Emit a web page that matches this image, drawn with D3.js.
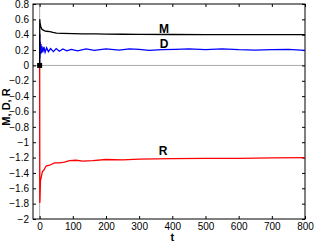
<!DOCTYPE html>
<html>
<head>
<meta charset="utf-8">
<script src="https://d3js.org/d3.v7.min.js"></script>
<style>
  body { margin: 0; background: #fff; }
  svg text { font-family: "Liberation Sans", Arial, sans-serif; }
  .tick text { font-size: 10px; }
</style>
</head>
<body>
<svg id="chart"></svg>
<script>
var width = 314, height = 242;
var margin = {left: 33, right: 9, top: 4, bottom: 23};

// data
var tM = [0, 0.5, 1, 2, 4, 7, 11, 15, 20, 31, 40, 51, 70, 100, 130, 170, 200, 250, 300, 400, 500, 600, 700, 800];
var valM = [0, 0.6, 0.57, 0.53, 0.5, 0.47, 0.46, 0.45, 0.445, 0.44, 0.43, 0.42, 0.418, 0.415, 0.412, 0.41, 0.408, 0.406, 0.405, 0.403, 0.402, 0.402, 0.401, 0.4];
var tD = [0, 0.5, 1, 2, 3, 4, 5, 7, 9.5, 13, 16.5, 21, 26.5, 33, 41.5, 50, 59.5, 70, 82, 95, 115, 140, 165, 200, 240, 270, 300, 330, 370, 410, 450, 500, 550, 600, 650, 700, 750, 800];
var valD = [0, 0.41, 0.1, 0.3, 0.15, 0.28, 0.16, 0.25, 0.17, 0.24, 0.17, 0.23, 0.18, 0.22, 0.18, 0.22, 0.185, 0.215, 0.19, 0.21, 0.19, 0.215, 0.195, 0.215, 0.2, 0.215, 0.21, 0.195, 0.205, 0.21, 0.215, 0.205, 0.215, 0.205, 0.2, 0.205, 0.21, 0.195];
var tR = [0, 0.5, 1, 2.5, 5, 8.5, 12, 19.5, 30, 45, 60, 75, 90, 110, 130, 160, 200, 250, 300, 400, 500, 600, 700, 800];
var valR = [0, -1.79, -1.75, -1.5, -1.45, -1.38, -1.37, -1.31, -1.3, -1.27, -1.27, -1.26, -1.24, -1.235, -1.245, -1.24, -1.225, -1.23, -1.22, -1.215, -1.21, -1.21, -1.205, -1.2];
var xTicks = [0, 100, 200, 300, 400, 500, 600, 700, 800];
var yTicks = [0.8, 0.6, 0.4, 0.2, 0, -0.2, -0.4, -0.6, -0.8, -1, -1.2, -1.4, -1.6, -1.8, -2];

var svg = d3.select('#chart').attr('width', width).attr('height', height);
var innerW = width - margin.left - margin.right;
var innerH = height - margin.top - margin.bottom;

var x = d3.scaleLinear().domain([-20, 800]).range([margin.left, margin.left + innerW]);
var y = d3.scaleLinear().domain([-2, 0.8]).range([margin.top + innerH, margin.top]);

// zero lines
svg.append('line').attr('x1', x(-20)).attr('x2', x(800)).attr('y1', y(0)).attr('y2', y(0))
    .attr('stroke', '#aaa').attr('stroke-width', 1);
svg.append('line').attr('x1', x(0)).attr('x2', x(0)).attr('y1', y(0.8)).attr('y2', y(-2))
    .attr('stroke', '#aaa').attr('stroke-width', 1);

function fmt(d) { return d3.format('')(d).replace('-', '\u2212'); }

var ax = function (g) { g.selectAll('.domain').remove(); g.selectAll('line').attr('stroke', '#000'); };

svg.append('g').attr('transform', 'translate(0,' + y(-2) + ')')
    .call(d3.axisBottom(x).tickValues(xTicks).tickSize(-3).tickPadding(4).tickFormat(fmt)).call(ax);
svg.append('g').attr('transform', 'translate(0,' + y(0.8) + ')')
    .call(d3.axisTop(x).tickValues(xTicks).tickSize(-3).tickFormat('')).call(ax);
svg.append('g').attr('transform', 'translate(' + x(-20) + ',0)')
    .call(d3.axisLeft(y).tickValues(yTicks).tickSize(-3).tickPadding(4).tickFormat(fmt)).call(ax);
svg.append('g').attr('transform', 'translate(' + x(800) + ',0)')
    .call(d3.axisRight(y).tickValues(yTicks).tickSize(-3).tickFormat('')).call(ax);

svg.selectAll('.tick text').attr('fill', '#000');

// box
svg.append('rect').attr('x', x(-20)).attr('y', y(0.8))
    .attr('width', x(800) - x(-20)).attr('height', y(-2) - y(0.8))
    .attr('fill', 'none').attr('stroke', '#000').attr('stroke-width', 1);

var line = d3.line().x(function (d) { return x(d[0]); }).y(function (d) { return y(d[1]); });

function series(ts, vs, color) {
    svg.append('path').datum(d3.zip(ts, vs)).attr('d', line)
        .attr('fill', 'none').attr('stroke', color).attr('stroke-width', 1.3);
}
series(tR, valR, '#ff0000');
series(tD, valD, '#0000ff');
series(tM, valM, '#000000');

svg.append('rect').attr('x', x(0) - 2.5).attr('y', y(0) - 2.5).attr('width', 5).attr('height', 5).attr('fill', '#000');

function label(t, px, py) {
    svg.append('text').attr('x', px).attr('y', py).attr('text-anchor', 'middle')
        .attr('font-size', '12px').attr('font-weight', 'bold').text(t);
}
label('M', x(375), y(0.425));
label('D', x(375), y(0.23));
label('R', x(372), y(-1.2) - 3);

svg.append('text').attr('x', x(400)).attr('y', 241).attr('text-anchor', 'middle')
    .attr('font-size', '11px').attr('font-weight', 'bold').text('t');
svg.append('text').attr('transform', 'translate(10,' + 107 + ') rotate(-90)')
    .attr('text-anchor', 'middle').attr('font-size', '11px').attr('font-weight', 'bold').text('M, D, R');
</script>
</body>
</html>
